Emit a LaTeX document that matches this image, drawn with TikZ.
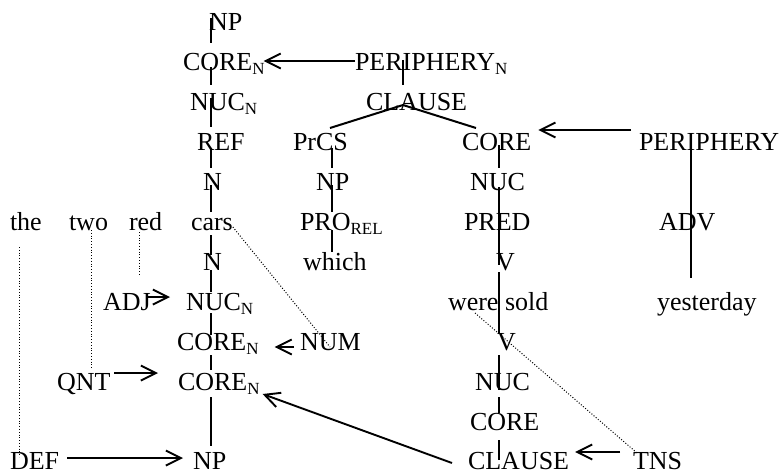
\documentclass[tikz,border=0pt]{standalone}
\usepackage{fontspec}
\setmainfont{Liberation Serif}
\usetikzlibrary{calc,arrows.meta}
\newcommand\sbs[1]{\raisebox{-4pt}{\fontsize{17}{17}\selectfont #1}}
\newcommand\seg[5]{\draw[tree] ($(#1.base -| #3)+(0,#4)$) -- ($(#2.base -| #3)+(0,#5)$);}
\begin{document}
\begin{tikzpicture}[x=1pt,y=-1pt,
  lab/.style={anchor=base west,inner sep=0pt,outer sep=0pt,font=\fontsize{26}{30}\selectfont},
  tree/.style={line width=2pt},
  arr/.style={line width=1.9pt,-{Straight Barb[length=15pt,width=15pt]}},
  dots/.style={line width=1pt,dash pattern=on 1pt off 1.8pt}]
\useasboundingbox (0,0) rectangle (783,475);
% spine x positions
\coordinate (xL) at (211,0);
\coordinate (xP) at (332,0);
\coordinate (xR) at (499,0);
\coordinate (xA) at (691,0);
\coordinate (xN) at (403,0);
% row 0
\node[lab] (np0) at (209,30) {NP};
% row 1
\node[lab] (core1) at (183,70) {CORE\sbs{N}};
\node[lab] (per1) at (355,70) {PERIPHERY\sbs{N}};
% row 2
\node[lab] (nuc2) at (190,110) {NUC\sbs{N}};
\node[lab] (clause2) at (366,110) {CLAUSE};
% row 3
\node[lab] (ref3) at (197,150) {REF};
\node[lab] (prcs3) at (293,150) {PrCS};
\node[lab] (core3) at (462,150) {CORE};
\node[lab] (per3) at (639,150) {PERIPHERY};
% row 4
\node[lab] (n4) at (203,190) {N};
\node[lab] (np4) at (316,190) {NP};
\node[lab] (nuc4) at (470,190) {NUC};
% row 5
\node[lab] (the5) at (10,230) {the};
\node[lab] (two5) at (69,230) {two};
\node[lab] (red5) at (129,230) {red};
\node[lab] (cars5) at (191,230) {cars};
\node[lab] (pro5) at (300,230) {PRO\sbs{REL}};
\node[lab] (pred5) at (464,230) {PRED};
\node[lab] (adv5) at (659,230) {ADV};
% row 6
\node[lab] (n6) at (203,270) {N};
\node[lab] (which6) at (303,270) {which};
\node[lab] (v6) at (496,270) {V};
% row 7
\node[lab] (adj7) at (103,310) {ADJ};
\node[lab] (nuc7) at (186,310) {NUC\sbs{N}};
\node[lab] (ws7) at (448,310) {were sold};
\node[lab] (yest7) at (657,310) {yesterday};
% row 8
\node[lab] (core8) at (177,350) {CORE\sbs{N}};
\node[lab] (num8) at (300,350) {NUM};
\node[lab] (v8) at (497,350) {V};
% row 9
\node[lab] (qnt9) at (57,390) {QNT};
\node[lab] (core9) at (178,390) {CORE\sbs{N}};
\node[lab] (nuc9) at (475,390) {NUC};
% row 10
\node[lab] (core10) at (470,430) {CORE};
% row 11
\node[lab] (def11) at (10,469) {DEF};
\node[lab] (np11) at (193,469) {NP};
\node[lab] (clause11) at (468,469) {CLAUSE};
\node[lab] (tns11) at (633,469) {TNS};

% left spine
\seg{np0}{core1}{xL}{-12}{-27}
\seg{core1}{nuc2}{xL}{-3}{-25}
\seg{nuc2}{ref3}{xL}{-12}{-23}
\seg{ref3}{n4}{xL}{-2}{-22}
\seg{n4}{cars5}{xL}{-5}{-18}
\seg{cars5}{n6}{xL}{5}{-15}
\seg{n6}{nuc7}{xL}{0}{-18}
\seg{nuc7}{core8}{xL}{3}{-15}
\seg{core8}{core9}{xL}{5}{-20}
\seg{core9}{np11}{xL}{7}{-23}
% PrCS spine
\seg{prcs3}{np4}{xP}{-2}{-22}
\seg{np4}{pro5}{xP}{-5}{-18}
\seg{pro5}{which6}{xP}{0}{-18}
% periphery_N
\seg{per1}{clause2}{xN}{-10}{-25}
% clause fork
\draw[tree] ($(prcs3.base -| xP)+(-2,-22)$) -- ($(clause2.base -| xN)+(0,-5)$) -- ($(core3.base west)+(14,-22)$);
% right spine
\seg{core3}{nuc4}{xR}{-5}{-22}
\seg{nuc4}{pred5}{xR}{-3}{-19}
\seg{pred5}{v6}{xR}{-19}{-5}
\seg{v6}{ws7}{xR}{2}{1}
\seg{ws7}{v8}{xR}{1}{-17}
\seg{v8}{nuc9}{xR}{5}{0}
\seg{nuc9}{core10}{xR}{7}{-17}
\seg{core10}{clause11}{xR}{10}{-9}
% ADV spine
\seg{per3}{adv5}{xA}{-3}{1}
\seg{adv5}{yest7}{xA}{1}{-32}

% arrows
\draw[arr] ($(per1.base west)+(0,-9)$) -- ($(core1.base east)+(-1,-9)$);
\draw[arr] ($(per3.base west)+(-8,-20)$) -- ($(core3.base east)+(7,-20)$);
\draw[arr] ($(adj7.base east)+(-4,-13)$) -- ($(nuc7.base west)+(-16,-13)$);
\draw[arr] ($(num8.base west)+(-6,-3)$) -- ($(core8.base east)+(16,-3)$);
\draw[arr] ($(qnt9.base east)+(4,-17)$) -- ($(core9.base west)+(-20,-17)$);
\draw[arr] ($(def11.base east)+(8,-11)$) -- ($(np11.base west)+(-10,-11)$);
\draw[arr] ($(clause11.base west)+(-16,-6)$) -- ($(core9.base east)+(3,4)$);
\draw[arr] ($(tns11.base west)+(-13,-17)$) -- ($(clause11.base east)+(6,-17)$);

% dotted associations
\draw[dots] ($(the5.base west)+(9,17)$) -- ($(def11.base west)+(9,-12)$);
\draw[dots] ($(two5.base west)+(22,0)$) -- ($(qnt9.base west)+(34,-22)$);
\draw[dots] ($(red5.base west)+(10,2)$) -- ($(adj7.base west)+(36,-35)$);
\draw[dots] ($(cars5.base east)+(0,-3)$) -- ($(num8.base west)+(30,-3)$);
\draw[dots] ($(ws7.base west)+(27,3)$) -- ($(tns11.base west)+(4,-16)$);
\end{tikzpicture}
\end{document}
